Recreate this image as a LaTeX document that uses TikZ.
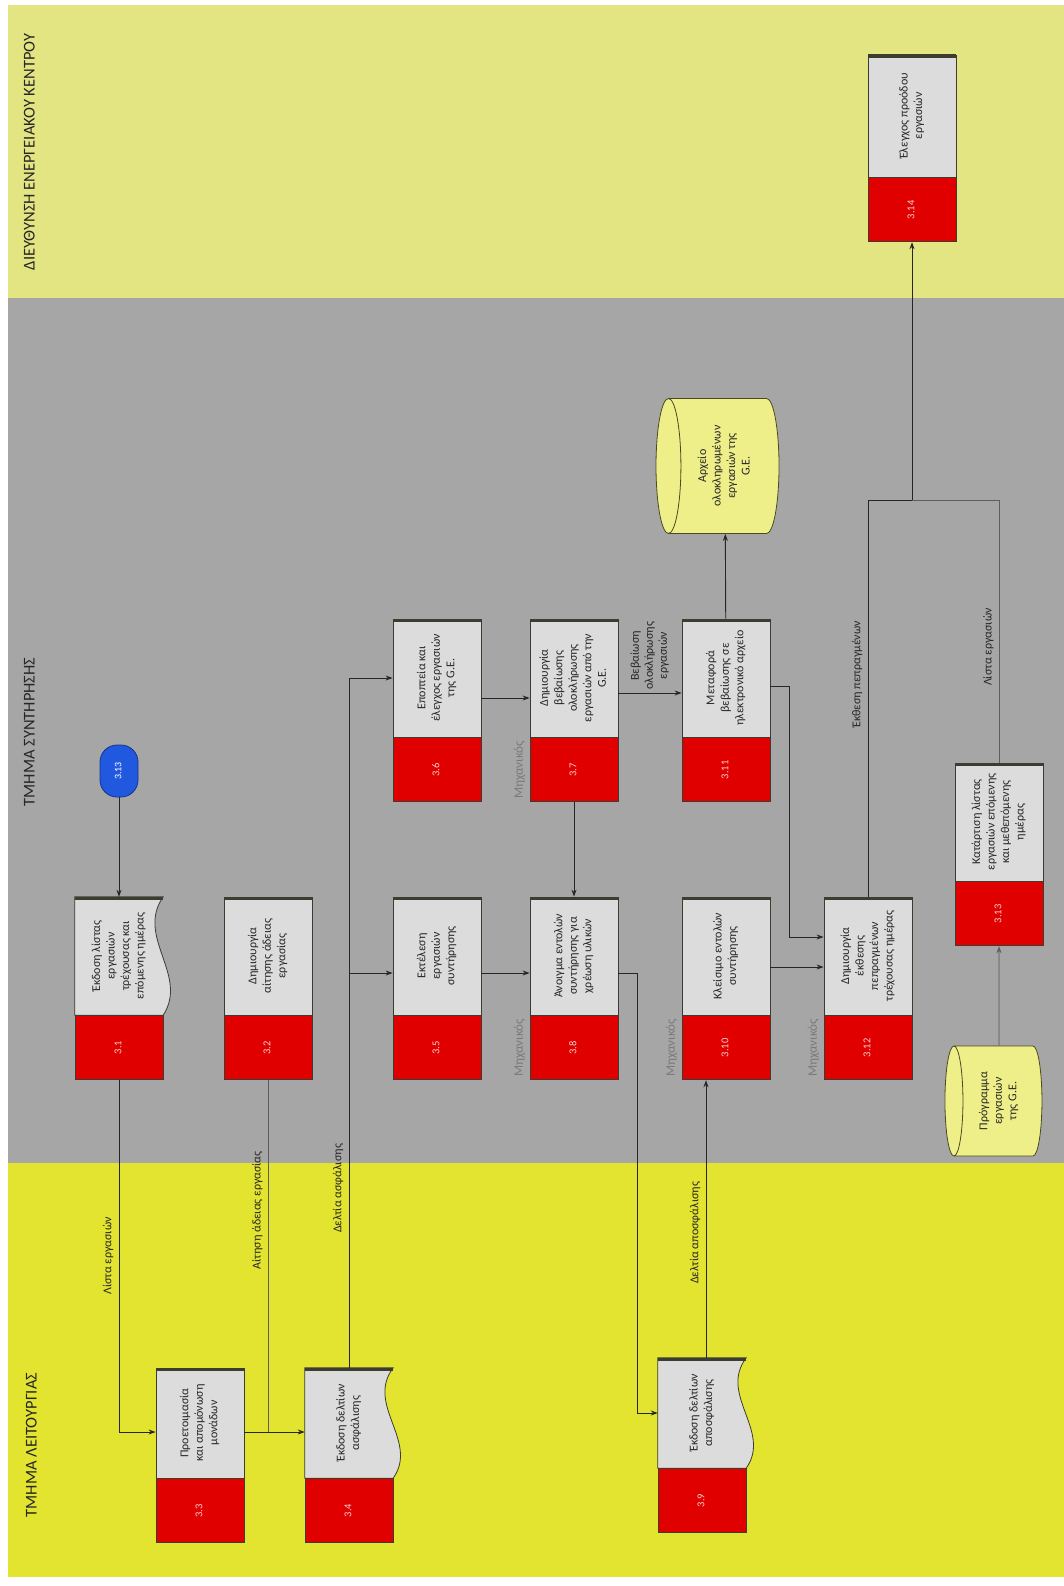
\documentclass[tikz,border=0pt]{standalone}
\usepackage{fontspec}
\setmainfont{Carlito}
\usepackage{graphicx}
\usepackage{tikz}
\usetikzlibrary{shapes.geometric, arrows.meta, positioning, backgrounds, calc}
\definecolor{topyellow}{HTML}{E3E482}
\definecolor{midgray}{HTML}{A6A6A6}
\definecolor{lowyellow}{HTML}{E3E42F}
\definecolor{boxgray}{HTML}{DCDCDC}
\definecolor{procred}{HTML}{E00000}
\definecolor{boxline}{HTML}{3C3C30}
\definecolor{storeyellow}{HTML}{EFEF8A}
\definecolor{storeline}{HTML}{4A4A20}
\definecolor{connblue}{HTML}{2158E0}
\definecolor{textdark}{HTML}{262626}
\definecolor{rolegray}{HTML}{7A7A7A}
\definecolor{softline}{HTML}{5E5E5E}
\definecolor{numpink}{HTML}{FFD0D0}
\newcommand{\uptext}[1]{\rotatebox{90}{\begin{tabular}{@{}c@{}}#1\end{tabular}}}
\tikzstyle{procbox} = [rectangle, minimum width=88pt, minimum height=118pt, inner sep=1pt,
  fill=boxgray, draw=boxline, line width=0.8pt, text=textdark, font=\fontsize{12}{14.5}\selectfont,
  path picture={\draw[boxline, line width=6pt] (path picture bounding box.north west) -- (path picture bounding box.north east);}]
\tikzstyle{docbox} = [rectangle, minimum width=88pt, minimum height=118pt, inner sep=1pt,
  text=textdark, font=\fontsize{12}{14.5}\selectfont]
\tikzstyle{docshape} = [fill=boxgray, draw=boxline, line width=0.8pt]
\tikzstyle{numbox} = [rectangle, minimum width=88pt, minimum height=64pt, inner sep=1pt,
  fill=procred, draw=boxline, line width=0.8pt, text=numpink, font=\fontsize{10.5}{12}\selectfont]
\tikzstyle{store} = [cylinder, shape border rotate=180, aspect=0.3, inner sep=1pt,
  fill=storeyellow, draw=storeline, line width=0.8pt, text=textdark, font=\fontsize{12}{14.5}\selectfont]
\tikzstyle{offpage} = [rectangle, rounded corners=17pt, minimum width=38pt, minimum height=52pt,
  fill=connblue, draw=connblue!60!black, line width=0.8pt, text=white, font=\fontsize{10}{12}\selectfont]
\tikzstyle{lanetitle} = [font=\fontsize{16.5}{18}\selectfont, text=textdark, inner sep=0pt]
\tikzstyle{flowlbl} = [font=\fontsize{12}{14}\selectfont, text=textdark, inner sep=3pt]
\tikzstyle{role} = [font=\fontsize{13}{15}\selectfont, text=rolegray, inner sep=0pt]
\tikzstyle{arrow} = [-{Stealth[length=7pt,width=5pt]}, line width=0.9pt, draw=black!85]
\tikzstyle{flowline} = [line width=0.9pt, draw=black!85]
\tikzstyle{thinline} = [line width=0.6pt, draw=softline]
\tikzstyle{thinarrow} = [thinline, -{Stealth[length=7pt,width=5pt]}, fill=softline]

\begin{document}
\begin{tikzpicture}[x=1pt, y=-1pt]
  \useasboundingbox (0,0) rectangle (1064,1586);

  % Lanes
  \begin{pgfonlayer}{background}
    \fill[white] (0,0) rectangle (1064,1586);
    \fill[topyellow] (8,5) rectangle (1064,298);
    \fill[midgray] (8,298) rectangle (1064,1163);
    \fill[lowyellow] (8,1163) rectangle (1064,1577);
  \end{pgfonlayer}
  \node (lane3) [lanetitle] at (31,152) {\uptext{ΔΙΕΥΘΥΝΣΗ ΕΝΕΡΓΕΙΑΚΟΥ ΚΕΝΤΡΟΥ}};
  \node (lane2) [lanetitle] at (31,732) {\uptext{ΤΜΗΜΑ ΣΥΝΤΗΡΗΣΗΣ}};
  \node (lane1) [lanetitle] at (33,1445) {\uptext{ΤΜΗΜΑ ΛΕΙΤΟΥΡΓΙΑΣ}};

  % Off-page connector
  \node (c313) [offpage] at (119,771) {\uptext{3.13}};

  % Upper row
  \node (p36) [procbox] at (437,678) {\uptext{Εποπτεία και\\έλεγχος εργασιών\\της G.E.}};
  \node (n36) [numbox, below=0pt of p36] {\uptext{3.6}};
  \node (p37) [procbox] at (574,678) {\uptext{Δημιουργία\\βεβαίωσης\\ολοκλήρωσης\\εργασιών από την\\G.E.}};
  \node (n37) [numbox, below=0pt of p37] {\uptext{3.7}};
  \node (p311) [procbox] at (726,678) {\uptext{Μεταφορά\\βεβαίωσης σε\\ηλεκτρονικό αρχείο}};
  \node (n311) [numbox, below=0pt of p311] {\uptext{3.11}};

  % Middle row
  \node (p31) [docbox] at (119,956) {\uptext{Έκδοση λίστας\\εργασιών\\τρέχουσας και\\επόμενης ημέρας}};
  \node (n31) [numbox, below=0pt of p31] {\uptext{3.1}};
  \node (p32) [procbox] at (268,956) {\uptext{Δημιουργία\\αίτησης άδειας\\εργασίας}};
  \node (n32) [numbox, below=0pt of p32] {\uptext{3.2}};
  \node (p35) [procbox] at (437,956) {\uptext{Εκτέλεση\\εργασιών\\συντήρησης}};
  \node (n35) [numbox, below=0pt of p35] {\uptext{3.5}};
  \node (p38) [procbox] at (574,956) {\uptext{Άνοιγμα εντολών\\συντήρησης για\\χρέωση υλικών}};
  \node (n38) [numbox, below=0pt of p38] {\uptext{3.8}};
  \node (p310) [procbox] at (726,956) {\uptext{Κλείσιμο εντολών\\συντήρησης}};
  \node (n310) [numbox, below=0pt of p310] {\uptext{3.10}};
  \node (p312) [procbox] at (868,956) {\uptext{Δημιουργία\\έκθεσης\\πεπραγμένων\\τρέχουσας ημέρας}};
  \node (n312) [numbox, below=0pt of p312] {\uptext{3.12}};
  \node (p313) [procbox] at (999,822) {\uptext{Κατάρτιση λίστας\\εργασιών επόμενης\\και μεθεπόμενης\\ημέρας}};
  \node (n313) [numbox, below=0pt of p313] {\uptext{3.13}};
  \node (p314) [procbox, minimum height=122pt] at (912,116) {\uptext{Έλεγχος προόδου\\εργασιών}};
  \node (n314) [numbox, below=0pt of p314] {\uptext{3.14}};

  % Lower row
  \node (p33) [procbox, minimum height=110pt] at (200,1423) {\uptext{Προετοιμασία\\και απομόνωση\\μονάδων}};
  \node (n33) [numbox, below=0pt of p33] {\uptext{3.3}};
  \node (p34) [docbox, minimum height=110pt] at (349,1423) {\uptext{Έκδοση δελτίων\\ασφάλισης}};
  \node (n34) [numbox, below=0pt of p34] {\uptext{3.4}};
  \node (p39) [docbox, minimum height=110pt] at (702,1413) {\uptext{Έκδοση δελτίων\\αποσφάλισης}};
  \node (n39) [numbox, below=0pt of p39] {\uptext{3.9}};

  % Document outlines
  \begin{pgfonlayer}{background}
    \filldraw[docshape] (p31.north west) -- (p31.north east) .. controls +(-28,40) and +(26,-40) .. (p31.south east) -- (p31.south west) -- cycle;
    \draw[boxline, line width=3pt] ([yshift=-1.5pt]p31.north west) -- ([yshift=-1.5pt]p31.north east);
    \filldraw[docshape] (p34.north west) -- (p34.north east) .. controls +(-28,37) and +(26,-37) .. (p34.south east) -- (p34.south west) -- cycle;
    \draw[boxline, line width=3pt] ([yshift=-1.5pt]p34.north west) -- ([yshift=-1.5pt]p34.north east);
    \filldraw[docshape] (p39.north west) -- (p39.north east) .. controls +(-28,37) and +(26,-37) .. (p39.south east) -- (p39.south west) -- cycle;
    \draw[boxline, line width=3pt] ([yshift=-1.5pt]p39.north west) -- ([yshift=-1.5pt]p39.north east);
  \end{pgfonlayer}

  % Stores
  \node (arch) [store, minimum width=135pt, minimum height=123pt] at (725,466)
    {\uptext{Αρχείο\\ολοκληρωμένων\\εργασιών της\\G.E.}};
  \node (prog) [store, minimum width=110pt, minimum height=97pt] at (999,1101)
    {\uptext{Πρόγραμμα\\εργασιών\\της G.E.}};

  % Roles
  \node (r37) [role, left=2pt of n37] {\uptext{Μηχανικός}};
  \node (r38) [role, left=2pt of n38] {\uptext{Μηχανικός}};
  \node (r310) [role, left=2pt of n310] {\uptext{Μηχανικός}};
  \node (r312) [role, left=2pt of n312] {\uptext{Μηχανικός}};

  % Junctions
  \coordinate (j33) at ([yshift=-9pt]p33.west);
  \coordinate (j34) at ([yshift=-9pt]p34.west);
  \coordinate (j35) at ($(p34.north |- p35.west)+(0,17)$);
  \coordinate (j39) at ([xshift=4pt]p39.north);
  \coordinate (j314) at (912,500);

  % Arrows
  \draw[arrow] (c313) -- (p31);
  \draw[arrow] (n31) |- (j33) node[flowlbl, pos=0.25, left] {\uptext{Λίστα εργασιών}};
  \draw[arrow] (j33 -| p33.east) -- (j34);
  \draw[thinline] (n32) -- (n32 |- j33) node[flowlbl, pos=0.37, left] {\uptext{Αίτηση άδειας εργασίας}};
  \draw[arrow] (p34) |- (p36) node[flowlbl, pos=0.13, left] {\uptext{Δελτία ασφάλισης}};
  \draw[arrow] (j35) -- (j35 -| p35.west);
  \draw[arrow] ([yshift=-17pt]p35.east) -- ([yshift=-17pt]p38.west);
  \draw[arrow] ([yshift=-20pt]p36.east) -- ([yshift=-20pt]p37.west);
  \draw[arrow] ([yshift=-15pt]p37.east) -- ([yshift=-15pt]p311.west)
    node[flowlbl, midway, above] {\uptext{Βεβαίωση\\ολοκλήρωσης\\εργασιών}};
  \draw[arrow] (n37) -- (p38);
  \draw[arrow] (p311) -- (arch);
  \draw[arrow] ([yshift=-8pt]p311.east) -- ++(19,0) |- ([yshift=19pt]p312.west);
  \draw[arrow] ([yshift=-17pt]p38.east) -- ++(19,0) |- (p39);
  \draw[arrow] (j39) -- (j39 |- n310.south) node[flowlbl, pos=0.45, left] {\uptext{Δελτία αποσφάλισης}};
  \draw[arrow] ([yshift=-11pt]p310.east) -- ([yshift=-11pt]p312.west);
  \draw[flowline] (p312) |- (j314) node[flowlbl, pos=0.28, left] {\uptext{Έκθεση πεπραγμένων}};
  \draw[thinline] (p313) |- (j314) node[flowlbl, pos=0.22, left] {\uptext{Λίστα εργασιών}};
  \draw[arrow] (j314) -- (n314);
  \draw[thinarrow] (prog) -- (n313);
\end{tikzpicture}
\end{document}
